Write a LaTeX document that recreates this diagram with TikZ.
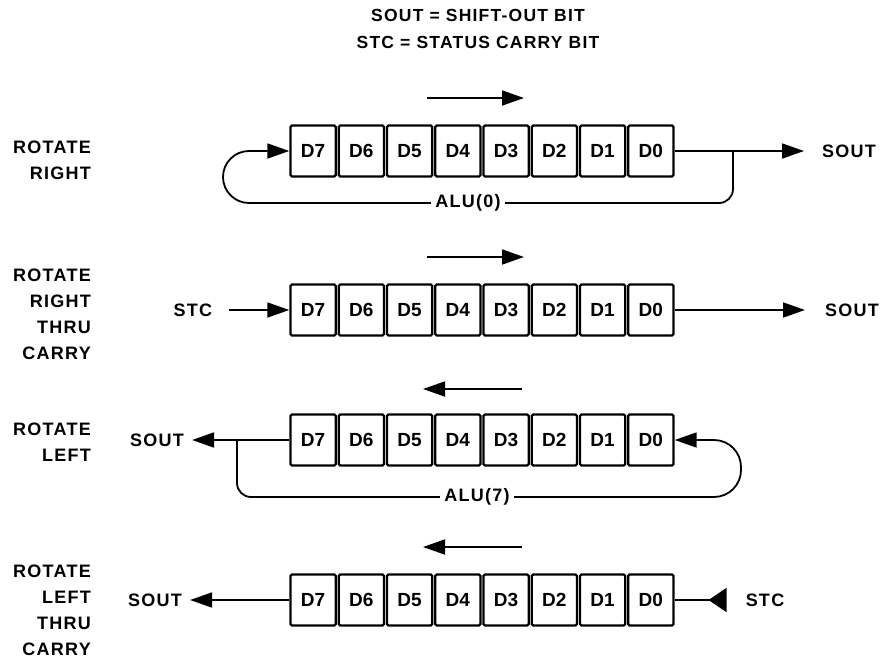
\documentclass[tikz,border=0pt]{standalone}
\usepackage{fontspec}
\setmainfont{Liberation Sans}
\newfontfamily\lblfont{Liberation Sans}[LetterSpace=7]
\usetikzlibrary{arrows.meta}

\begin{document}
\begin{tikzpicture}[x=1pt,y=-1pt,
    cell/.style={draw,line width=2.4pt,rounded corners=1.5pt,minimum width=45.3pt,minimum height=51pt,inner sep=0pt,font=\bfseries\fontsize{19}{19}\selectfont},
    lbl/.style={font=\lblfont\bfseries\fontsize{18}{26}\selectfont,inner sep=2pt},
    conn/.style={line width=1.8pt},
    tip/.style={-{Triangle[length=22pt,width=15pt]}}]
        \useasboundingbox(0,0)rectangle(883,661);

        \node[lbl,align=center,font=\lblfont\bfseries\fontsize{17.5}{27}\selectfont](title) at (478,29){SOUT = SHIFT-OUT BIT\\STC = STATUS CARRY BIT};

        % registri
        \foreach \r/\y in {1/151,2/310,3/440,4/600}{
            \foreach \i in {0,...,7}{
                \node[cell](r\r-\i) at ({289+48.25*(7-\i+0.5)},\y){D\i};
            }
        }

        % frecce di scorrimento
        \draw[conn,tip](427,98)--(524,98);
        \draw[conn,tip](427,257)--(524,257);
        \draw[conn,tip](522,389)--(423,389);
        \draw[conn,tip](522,547)--(423,547);

        % rotate right
        \node[lbl,anchor=east,align=right](rotr) at (93,160){ROTATE\\RIGHT};
        \node[lbl,anchor=west](sout1) at (820,151){SOUT};
        \draw[conn,tip,shorten >=16pt](r1-0.east)--(sout1.west);
        \coordinate(b1) at (733,151);
        \coordinate(m1) at (468,203);
        \coordinate(lp1) at (223,151);
        \draw[conn,tip](b1)[rounded corners=14pt]|-(m1)[rounded corners=26pt]-|(lp1)--(r1-7.west);
        \node[lbl,fill=white,inner sep=4pt](alu0) at (m1){ALU(0)};

        % rotate right thru carry
        \node[lbl,anchor=east,align=right](rotrc) at (93,314){ROTATE\\RIGHT\\THRU\\CARRY};
        \node[lbl](stc2) at (193,310){STC};
        \draw[conn,tip,shorten <=15pt](stc2.east)--(r2-7.west);
        \node[lbl,anchor=west](sout2) at (823,310){SOUT};
        \draw[conn,tip,shorten >=18pt](r2-0.east)--(sout2.west);

        % rotate left
        \node[lbl,anchor=east,align=right](rotl) at (93,442){ROTATE\\LEFT};
        \node[lbl](sout3) at (157,440){SOUT};
        \draw[conn,tip,shorten >=6pt](r3-7.west)--(sout3.east);
        \coordinate(b3) at (237,440);
        \coordinate(m3) at (477,497);
        \coordinate(lp3) at (741,440);
        \draw[conn,tip](b3)[rounded corners=14pt]|-(m3)[rounded corners=27pt]-|(lp3)--(r3-0.east);
        \node[lbl,fill=white,inner sep=4pt](alu7) at (m3){ALU(7)};

        % rotate left thru carry
        \node[lbl,anchor=east,align=right](rotlc) at (93,610){ROTATE\\LEFT\\THRU\\CARRY};
        \node[lbl](sout4) at (155,600){SOUT};
        \draw[conn,tip,shorten >=6pt](r4-7.west)--(sout4.east);
        \node[lbl](stc4) at (765,600){STC};
        \draw[conn,{Triangle[reversed,length=18pt,width=24pt]}-,shorten <=17pt](stc4.west)--(r4-0.east);
    \end{tikzpicture}
\end{document}
